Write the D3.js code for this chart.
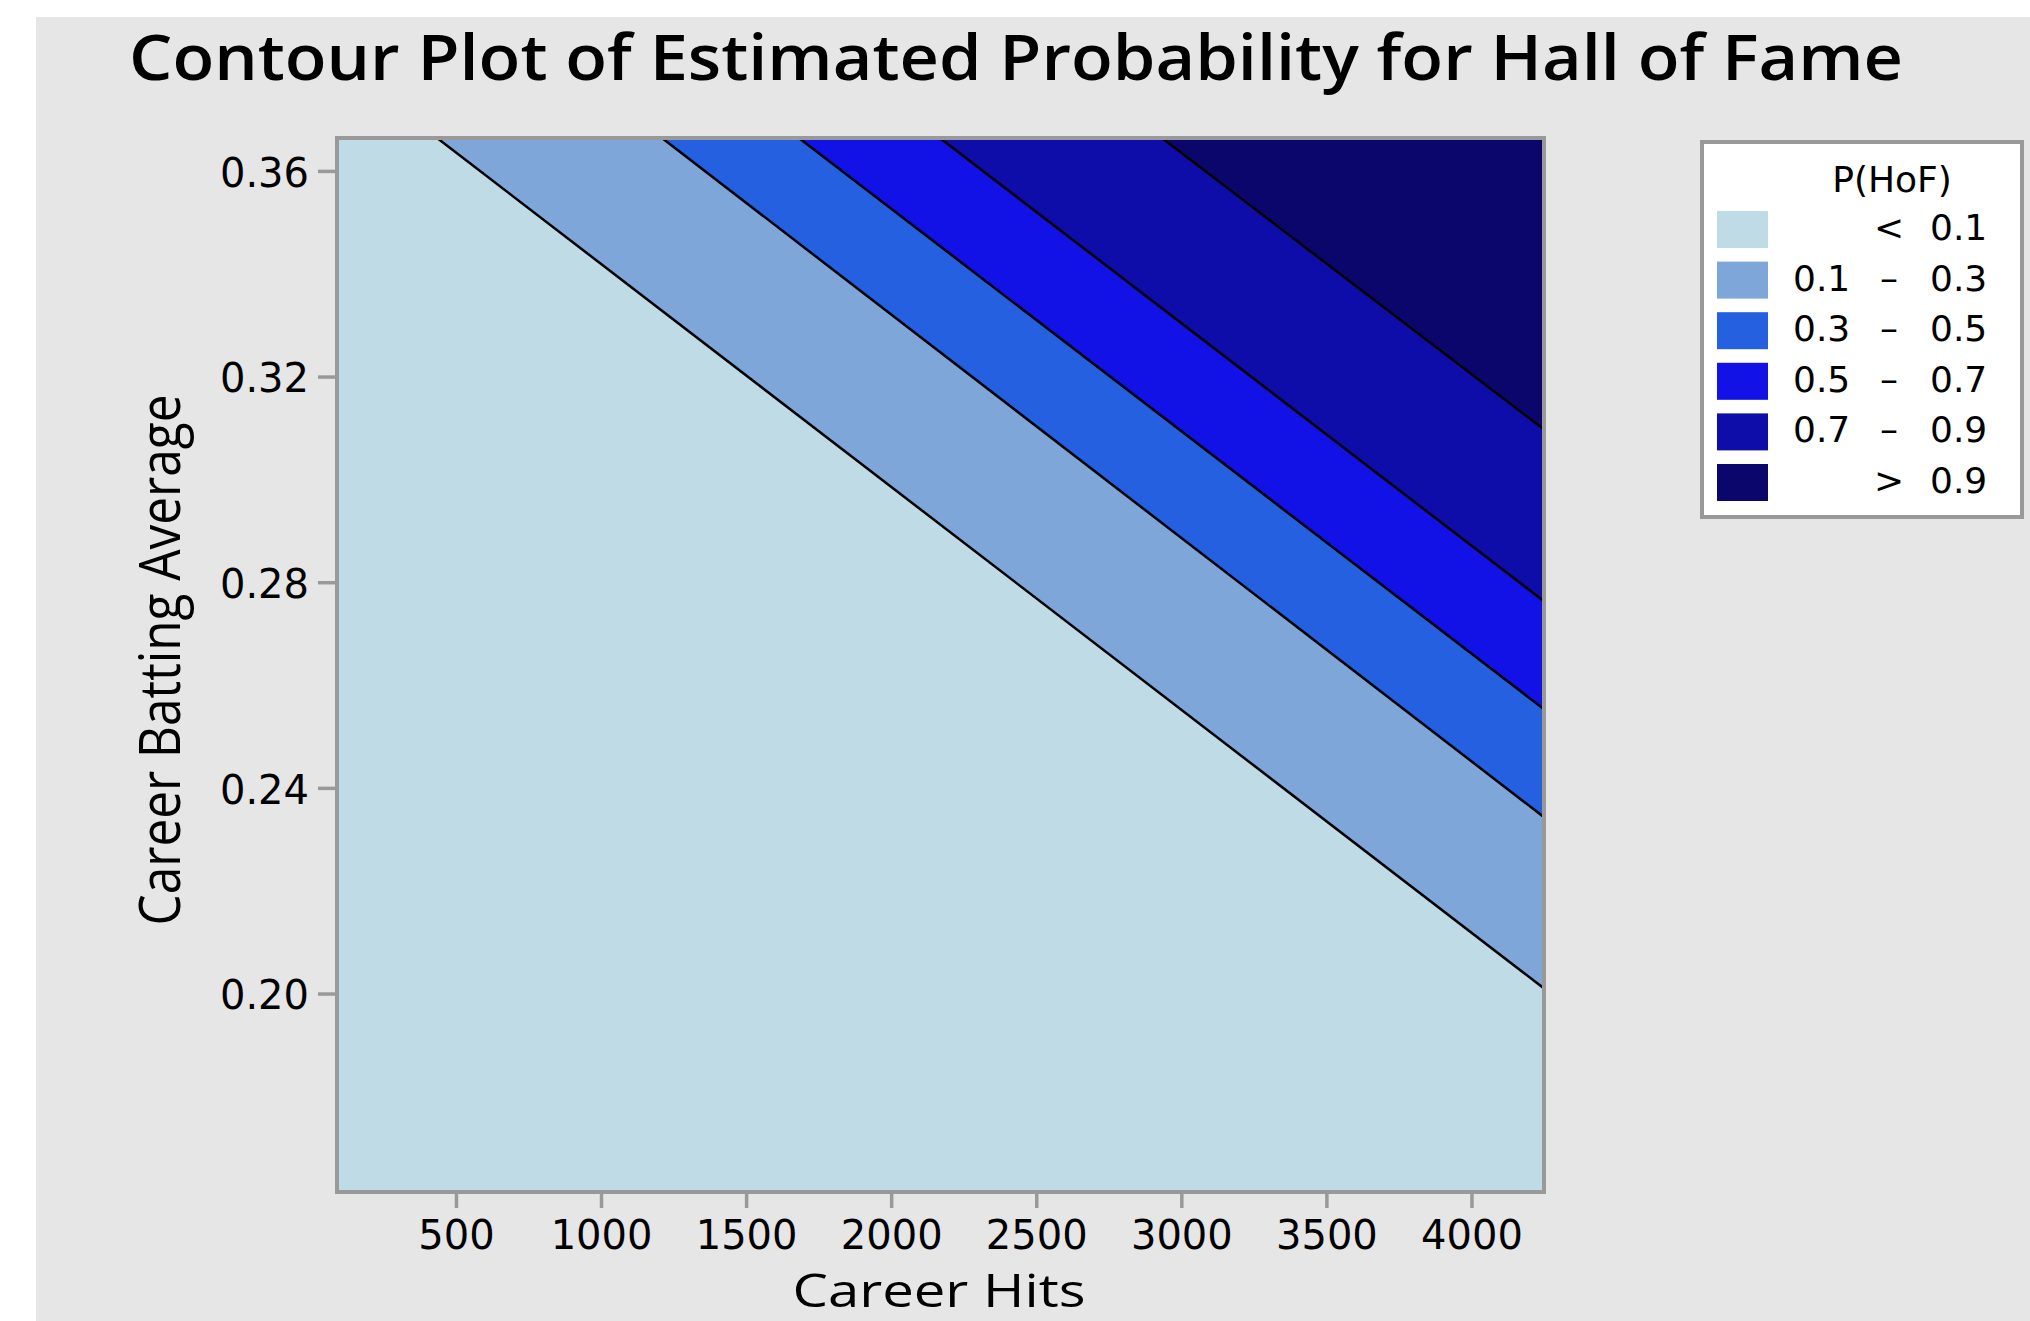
<!DOCTYPE html>
<html>
<head>
<meta charset="utf-8">
<script src="https://cdn.jsdelivr.net/npm/d3@7"></script>
<style>
  body { margin: 0; background: #fff; }
  svg { display: block; }
</style>
</head>
<body>
<div id="chart"></div>
<script>
// data
const hitsDomain = [90, 4250];
const avgDomain = [0.1614, 0.3664];
const levels = [0.1, 0.3, 0.5, 0.7, 0.9];
// each contour leaves the plot at the top edge (hits) and at the right edge (batting average)
const topHits = [435, 1210, 1682, 2168, 2933];
const rightAvg = [0.2010, 0.2343, 0.2553, 0.2763, 0.3097];
const bandColors = ["#bfdbe6", "#7fa6d8", "#2460e0", "#1212e6", "#0e0daa", "#0a066b"];
const bandLabels = [
    ["", "<", "0.1"],
    ["0.1", "–", "0.3"],
    ["0.3", "–", "0.5"],
    ["0.5", "–", "0.7"],
    ["0.7", "–", "0.9"],
    ["", ">", "0.9"]
];
const xTicks = [500, 1000, 1500, 2000, 2500, 3000, 3500, 4000];
const yTicks = [0.20, 0.24, 0.28, 0.32, 0.36];

const width = 2030, height = 1321;
const plot = {left: 337, top: 138, right: 1544, bottom: 1192};
const axisGray = "#999999";

const svg = d3.select("#chart")
    .append("svg")
    .attr("width", width)
    .attr("height", height);

svg.append("rect")
    .attr("x", 36).attr("y", 17)
    .attr("width", width - 36).attr("height", height - 17)
    .attr("fill", "#e6e6e6");

const x = d3.scaleLinear().domain(hitsDomain).range([plot.left, plot.right]);
const y = d3.scaleLinear().domain(avgDomain).range([plot.bottom, plot.top]);

svg.append("clipPath")
    .attr("id", "plot-clip")
    .append("rect")
    .attr("x", plot.left).attr("y", plot.top)
    .attr("width", plot.right - plot.left)
    .attr("height", plot.bottom - plot.top);

const area = svg.append("g").attr("clip-path", "url(#plot-clip)");

// lowest band fills the whole region
area.append("rect")
    .attr("x", x(hitsDomain[0])).attr("y", y(avgDomain[1]))
    .attr("width", x(hitsDomain[1]) - x(hitsDomain[0]))
    .attr("height", y(avgDomain[0]) - y(avgDomain[1]))
    .attr("fill", bandColors[0]);

// every level above a contour is the corner beyond it
const cornerPts = levels.map((lv, i) => [
    [topHits[i], avgDomain[1]],
    [hitsDomain[1], avgDomain[1]],
    [hitsDomain[1], rightAvg[i]]
]);

const line = d3.line().x(d => x(d[0])).y(d => y(d[1]));

area.selectAll("path.band")
    .data(cornerPts)
    .enter()
    .append("path")
    .attr("class", "band")
    .attr("d", d => line(d) + "Z")
    .attr("fill", (d, i) => bandColors[i + 1]);

area.selectAll("path.contour")
    .data(levels)
    .enter()
    .append("path")
    .attr("class", "contour")
    .attr("d", (lv, i) => line([[topHits[i], avgDomain[1]], [hitsDomain[1], rightAvg[i]]]))
    .attr("fill", "none")
    .attr("stroke", "#000")
    .attr("stroke-width", 2.5);

// frame
svg.append("rect")
    .attr("x", plot.left).attr("y", plot.top)
    .attr("width", plot.right - plot.left)
    .attr("height", plot.bottom - plot.top)
    .attr("fill", "none")
    .attr("stroke", axisGray)
    .attr("stroke-width", 4);

const xAxis = d3.axisBottom(x).tickValues(xTicks).tickSize(14).tickPadding(13).tickFormat(d3.format("d"));
const yAxis = d3.axisLeft(y).tickValues(yTicks).tickSize(17).tickPadding(9).tickFormat(d3.format(".2f"));

const gx = svg.append("g")
    .attr("transform", `translate(0,${plot.bottom + 2})`)
    .call(xAxis);
const gy = svg.append("g")
    .attr("transform", `translate(${plot.left - 2},0)`)
    .call(yAxis);

[gx, gy].forEach(g => {
    g.select(".domain").remove();
    g.selectAll(".tick line").attr("stroke", axisGray).attr("stroke-width", 3.5);
    g.selectAll(".tick text")
        .attr("fill", "#000")
        .style("font-family", "'DejaVu Sans', sans-serif")
        .style("font-size", "40px");
});
gy.selectAll(".tick text").attr("dy", "0.38em");

// titles
svg.append("text")
    .attr("x", 129).attr("y", 80)
    .attr("textLength", 1774)
    .attr("lengthAdjust", "spacingAndGlyphs")
    .style("font-family", "'Open Sans', sans-serif")
    .style("font-weight", 600)
    .style("font-size", "63px")
    .text("Contour Plot of Estimated Probability for Hall of Fame");

svg.append("text")
    .attr("x", 939).attr("y", 1307)
    .attr("text-anchor", "middle")
    .attr("textLength", 293)
    .attr("lengthAdjust", "spacingAndGlyphs")
    .style("font-family", "'Open Sans', sans-serif")
    .style("font-size", "45px")
    .text("Career Hits");

svg.append("text")
    .attr("transform", "translate(180,660) rotate(-90)")
    .attr("text-anchor", "middle")
    .attr("textLength", 531)
    .attr("lengthAdjust", "spacingAndGlyphs")
    .style("font-family", "'Open Sans', sans-serif")
    .style("font-size", "56px")
    .text("Career Batting Average");

// legend
const legend = svg.append("g");
legend.append("rect")
    .attr("x", 1702).attr("y", 142)
    .attr("width", 320).attr("height", 375)
    .attr("fill", "#fff")
    .attr("stroke", axisGray)
    .attr("stroke-width", 4);

legend.append("text")
    .attr("x", 1892).attr("y", 192)
    .attr("text-anchor", "middle")
    .style("font-family", "'DejaVu Sans', sans-serif")
    .style("font-size", "36px")
    .text("P(HoF)");

const rowStep = 50.6;
const rows = legend.selectAll("g.row")
    .data(bandLabels)
    .enter()
    .append("g")
    .attr("class", "row")
    .attr("transform", (d, i) => `translate(0,${i * rowStep})`);

rows.append("rect")
    .attr("x", 1717).attr("y", 211)
    .attr("width", 51).attr("height", 37)
    .attr("fill", (d, i) => bandColors[i]);

const legendText = (sel, xPos, anchor, idx) => sel.append("text")
    .attr("x", xPos).attr("y", 240)
    .attr("text-anchor", anchor)
    .style("font-family", "'DejaVu Sans', sans-serif")
    .style("font-size", "36px")
    .text(d => d[idx]);

legendText(rows, 1793, "start", 0);
legendText(rows, 1889, "middle", 1);
legendText(rows, 1930, "start", 2);
</script>
</body>
</html>
